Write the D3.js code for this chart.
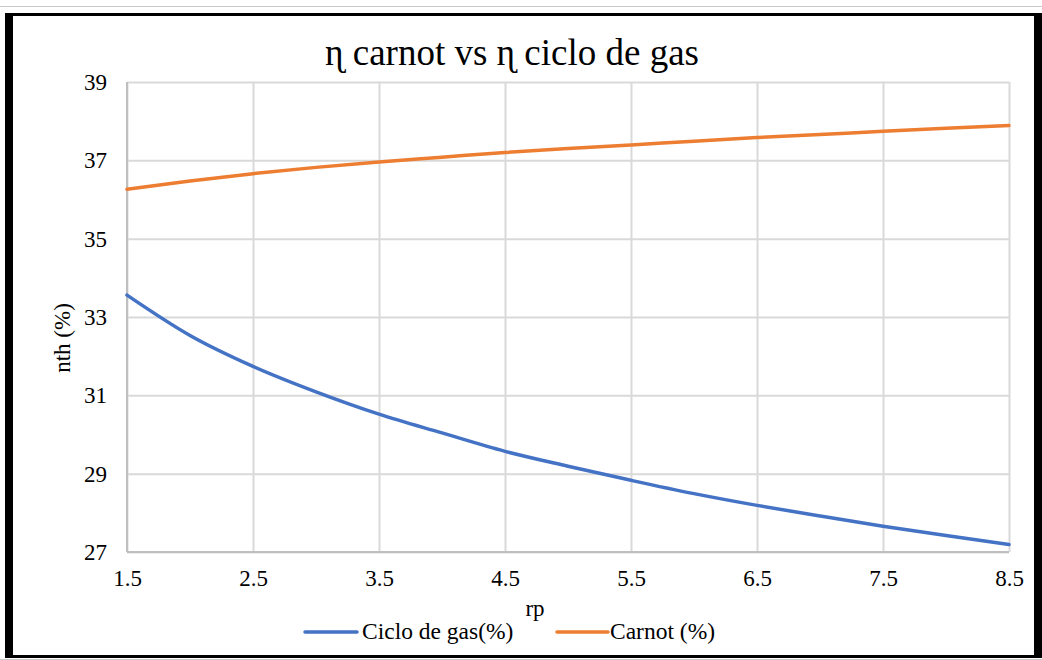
<!DOCTYPE html>
<html>
<head>
<meta charset="utf-8">
<script src="https://cdn.jsdelivr.net/npm/d3@7/dist/d3.min.js"></script>
<style>
  html, body { margin: 0; padding: 0; background: #fff; }
  svg { display: block; }
</style>
</head>
<body>
<svg id="chart" width="1042" height="660"></svg>
<script>
// Pressure ratio (rp) samples
const rp = [1.5, 2.0, 2.5, 3.0, 3.5, 4.0, 4.5, 5.0, 5.5, 6.0, 6.5, 7.0, 7.5, 8.0, 8.5];
// Thermal efficiency of the gas cycle (%)
const cicloGas = [33.56, 32.53, 31.74, 31.09, 30.52, 30.04, 29.57, 29.19, 28.83, 28.49, 28.19, 27.92, 27.66, 27.42, 27.19];
// Carnot efficiency (%)
const carnot = [36.26, 36.47, 36.66, 36.82, 36.96, 37.08, 37.20, 37.30, 37.39, 37.49, 37.58, 37.66, 37.74, 37.82, 37.89];
// Axis ticks
const xTicks = [1.5, 2.5, 3.5, 4.5, 5.5, 6.5, 7.5, 8.5];
const yTicks = [27, 29, 31, 33, 35, 37, 39];

const seriesNames = ["Ciclo de gas(%)", "Carnot (%)"];
const seriesColors = ["#4472C4", "#ED7D31"];

const FONT = "'Liberation Serif', 'Times New Roman', 'DejaVu Serif', serif";

const svg = d3.select("#chart");
const W = 1042, H = 660;
const plot = { left: 127, right: 1009, top: 82, bottom: 552 };

const x = d3.scaleLinear().domain([1.5, 8.5]).range([plot.left, plot.right]);
const y = d3.scaleLinear().domain([27, 39]).range([plot.bottom, plot.top]);

// Outer frame
svg.append("rect").attr("x", 0).attr("y", 0).attr("width", W).attr("height", H).attr("fill", "#fff");
svg.append("line").attr("x1", 0).attr("x2", W).attr("y1", 6.5).attr("y2", 6.5).attr("stroke", "#c8c8c8").attr("stroke-width", 1);
svg.append("line").attr("x1", 0).attr("x2", W).attr("y1", 659.5).attr("y2", 659.5).attr("stroke", "#c8c8c8").attr("stroke-width", 1);
svg.append("rect").attr("x", 5).attr("y", 13).attr("width", 8).attr("height", 645).attr("fill", "#000");
svg.append("rect").attr("x", 1034).attr("y", 13).attr("width", 8).attr("height", 645).attr("fill", "#000");
svg.append("rect").attr("x", 5).attr("y", 13).attr("width", 1037).attr("height", 3).attr("fill", "#000");
svg.append("rect").attr("x", 5).attr("y", 655).attr("width", 1037).attr("height", 3).attr("fill", "#000");

// Gridlines + tick labels
const yAxis = svg.append("g")
  .attr("transform", `translate(${plot.left},0)`)
  .call(d3.axisLeft(y).tickValues(yTicks).tickFormat(d3.format("d"))
    .tickSize(-(plot.right - plot.left)).tickPadding(20));
yAxis.select(".domain").remove();
yAxis.attr("font-family", null).attr("font-size", null);
yAxis.selectAll(".tick line").attr("stroke", "#d9d9d9").attr("stroke-width", 2);
yAxis.selectAll(".tick text").style("font-family", FONT).style("font-size", "23px").attr("fill", "#000");

const xAxis = svg.append("g")
  .attr("transform", `translate(0,${plot.bottom})`)
  .call(d3.axisBottom(x).tickValues(xTicks).tickFormat(d3.format(".1f"))
    .tickSize(-(plot.bottom - plot.top)).tickPadding(18));
xAxis.select(".domain").remove();
xAxis.attr("font-family", null).attr("font-size", null);
xAxis.selectAll(".tick line").attr("stroke", "#d9d9d9").attr("stroke-width", 2);
xAxis.selectAll(".tick text").style("font-family", FONT).style("font-size", "23px").attr("fill", "#000");

// Axis lines
svg.append("line").attr("x1", plot.left).attr("x2", plot.left).attr("y1", plot.top).attr("y2", plot.bottom)
  .attr("stroke", "#bfbfbf").attr("stroke-width", 2);
svg.append("line").attr("x1", plot.left).attr("x2", plot.right).attr("y1", plot.bottom).attr("y2", plot.bottom)
  .attr("stroke", "#bfbfbf").attr("stroke-width", 2);

// Series lines
const line = d3.line().x((d, i) => x(rp[i])).y(d => y(d)).curve(d3.curveMonotoneX);
[cicloGas, carnot].forEach((vals, k) => {
  svg.append("path").datum(vals)
    .attr("d", line)
    .attr("fill", "none")
    .attr("stroke", seriesColors[k])
    .attr("stroke-width", 3.5)
    .attr("stroke-linecap", "round");
});

function label(x0, y0, size, str, anchor) {
  return svg.append("text").attr("x", x0).attr("y", y0)
    .attr("text-anchor", anchor || "start")
    .style("font-family", FONT).style("font-size", size + "px")
    .attr("fill", "#000").text(str);
}

// Title
label(512, 65, 37, "ɳ carnot vs ɳ ciclo de gas", "middle");

// Axis titles
label(535, 616, 23, "rp", "middle");
label(0, 0, 23, "nth (%)", "middle").attr("x", null).attr("y", null)
  .attr("transform", "translate(70,338) rotate(-90)");

// Legend
const legendItems = [
  { x1: 305, x2: 357, tx: 362 },
  { x1: 557, x2: 608, tx: 610 }
];
legendItems.forEach((it, k) => {
  svg.append("line").attr("x1", it.x1).attr("x2", it.x2).attr("y1", 632).attr("y2", 632)
    .attr("stroke", seriesColors[k]).attr("stroke-width", 3.5).attr("stroke-linecap", "round");
  label(it.tx, 639, 23.5, seriesNames[k]);
});
</script>
</body>
</html>
